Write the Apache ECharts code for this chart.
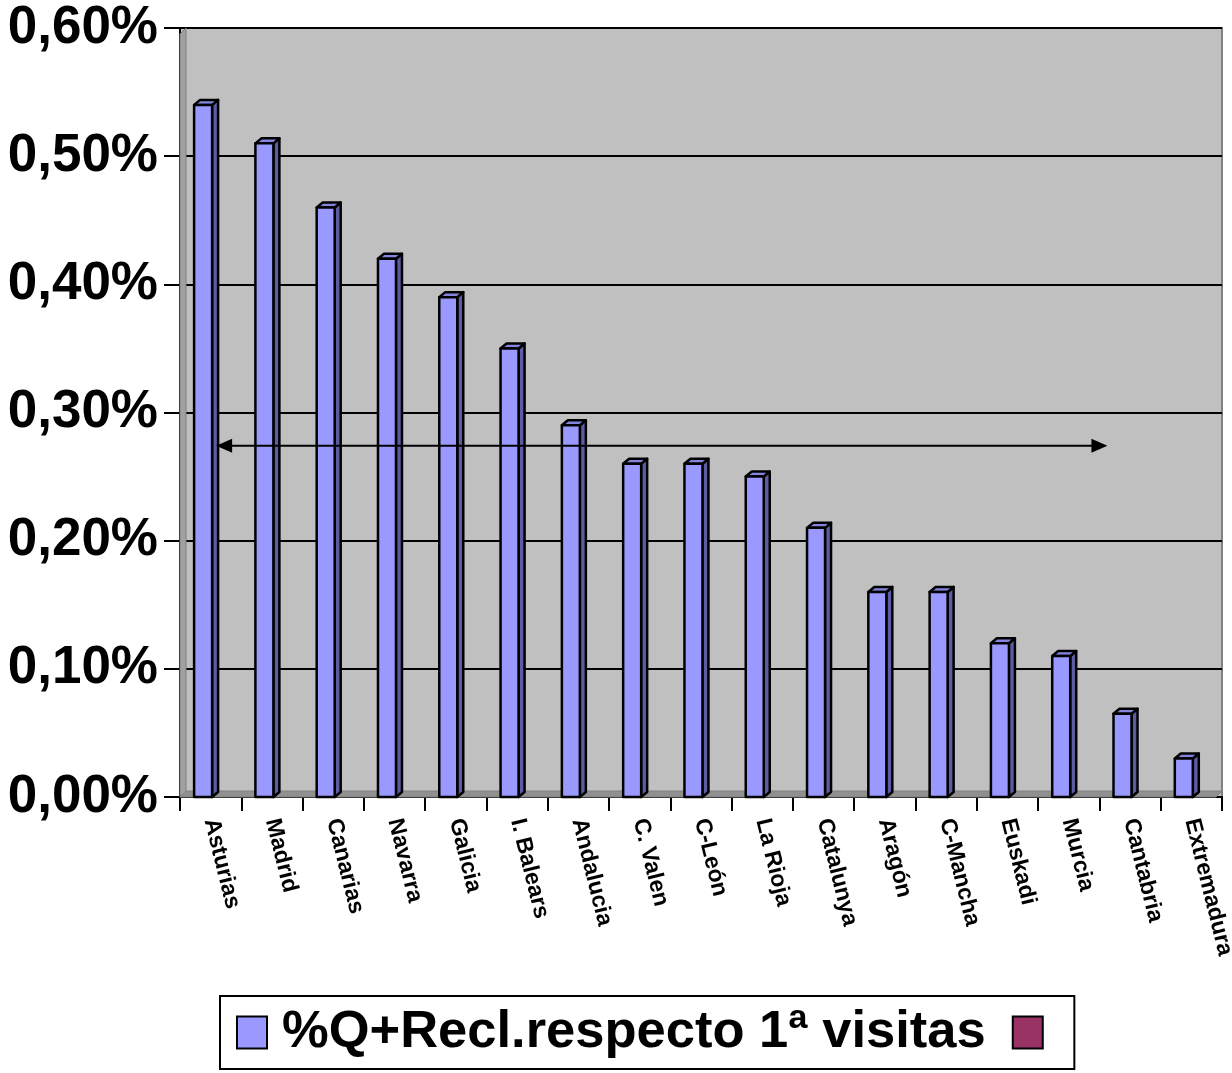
<!DOCTYPE html>
<html>
<head>
<meta charset="utf-8">
<script src="https://cdn.jsdelivr.net/npm/echarts@6/dist/echarts.min.js"></script>
<style>html,body{margin:0;padding:0;background:#fff}#c{width:1232px;height:1073px}</style>
</head>
<body>
<div id="c"></div>
<script>
const categories = ['Asturias','Madrid','Canarias','Navarra','Galicia','I. Balears','Andalucia','C. Valen','C-León','La Rioja','Catalunya','Aragón','C-Mancha','Euskadi','Murcia','Cantabria','Extremadura'];
const values = [0.54,0.51,0.46,0.42,0.39,0.35,0.29,0.26,0.26,0.25,0.21,0.16,0.16,0.12,0.11,0.065,0.03];
const seriesName = '%Q+Recl.respecto 1ª visitas';
const secondName = ' ';
const yTicks = [0,0.1,0.2,0.3,0.4,0.5,0.6];
const arrowX = [0.72, 15.0];
const arrowY = 0.274;

const chart = echarts.init(document.getElementById('c'), null, {renderer:'canvas'});
const FONT = 'Liberation Sans, Arial, sans-serif';

function renderBar(params, api){
  const cat = api.value(0), v = api.value(1);
  const top = api.coord([cat, v]);
  const base = api.coord([cat, 0]);
  const band = api.size([1,0])[0];
  const w = 18, dx = 6, dy = 5;
  const x0 = top[0] - band/2 + band*0.23;
  const yT = top[1], yB = base[1];
  const st = {stroke:'#000', lineWidth:2.5, lineJoin:'round'};
  return {type:'group', children:[
    {type:'polygon', shape:{points:[[x0+w,yT],[x0+w+dx,yT-dy],[x0+w+dx,yB-dy],[x0+w,yB]]}, style:Object.assign({fill:'#5C5CA3'}, st)},
    {type:'polygon', shape:{points:[[x0,yT],[x0+dx,yT-dy],[x0+w+dx,yT-dy],[x0+w,yT]]}, style:Object.assign({fill:'#8585E0'}, st)},
    {type:'rect', shape:{x:x0, y:yT, width:w, height:yB-yT}, style:Object.assign({fill:'#9999FF'}, st)}
  ]};
}

function renderWall(params, api){
  if (params.dataIndex !== 0) return null;
  const c = params.coordSys;
  const d = 6;
  return {type:'group', silent:true, children:[
    {type:'polygon', shape:{points:[[c.x,c.y+d],[c.x+d,c.y],[c.x+d,c.y+c.height-d],[c.x,c.y+c.height]]}, style:{fill:'#A0A0A0', stroke:'#808080', lineWidth:1}},
    {type:'polygon', shape:{points:[[c.x,c.y+c.height],[c.x+d,c.y+c.height-d],[c.x+c.width,c.y+c.height-d],[c.x+c.width-d,c.y+c.height]]}, style:{fill:'#909090', stroke:'#808080', lineWidth:1}}
  ]};
}

const arrowData = [
  {value:[arrowX[0], arrowY], symbolRotate:90},
  {value:[arrowX[1], arrowY], symbolRotate:-90}
];

chart.setOption({
  backgroundColor:'#ffffff',
  animation:false,
  grid:{left:180, right:10, top:28, bottom:276, outerBoundsMode:'none', containLabel:false, show:true, backgroundColor:'#C0C0C0', borderColor:'#808080', borderWidth:2},
  legend:{
    data:[{name:seriesName},{name:secondName}],
    left:220, top:996,
    orient:'horizontal',
    padding:[10,2,10,16],
    itemGap:26,
    itemWidth:30, itemHeight:32,
    icon:'rect',
    borderColor:'#000', borderWidth:2,
    selectedMode:false,
    textStyle:{fontFamily:FONT, fontSize:52.5, fontWeight:'bold', color:'#000', padding:[0,0,0,10]}
  },
  xAxis:[{
    type:'category', data:categories, boundaryGap:true,
    axisLine:{show:true, lineStyle:{color:'#000', width:2}},
    axisTick:{show:true, length:14, lineStyle:{color:'#000', width:2}},
    axisLabel:{interval:0, rotate:-76, margin:22, fontFamily:FONT, fontSize:23, fontWeight:'bold', color:'#000'},
    splitLine:{show:false}
  },{
    type:'value', min:0, max:categories.length, show:false
  }],
  yAxis:{
    type:'value', min:0, max:0.6, interval:0.1,
    axisLine:{show:true, lineStyle:{color:'#000', width:2}},
    axisTick:{show:true, inside:false, length:16, lineStyle:{color:'#000', width:2}},
    axisLabel:{margin:22, fontFamily:FONT, fontSize:53, fontWeight:'bold', color:'#000',
      formatter:v=>v.toFixed(2).replace('.',',')+'%'},
    splitLine:{show:true, lineStyle:{color:'#000', width:2}}
  },
  series:[
    {type:'custom', xAxisIndex:0, renderItem:renderWall, data:[[0,0]], z:1, silent:true},
    {name:seriesName, type:'custom', xAxisIndex:0, renderItem:renderBar,
      itemStyle:{color:'#9999FF', borderColor:'#000', borderWidth:1.5},
      data:categories.map((c,i)=>[i, values[i]]), z:3},
    {name:secondName, type:'custom', xAxisIndex:0, renderItem:()=>null,
      itemStyle:{color:'#993366', borderColor:'#000', borderWidth:1.5}, data:[]},
    {type:'line', xAxisIndex:1, data:arrowData, symbol:'triangle', symbolSize:[14,16],
      lineStyle:{color:'#000', width:2}, itemStyle:{color:'#000'}, z:5, silent:true}
  ]
});
</script>
</body>
</html>
